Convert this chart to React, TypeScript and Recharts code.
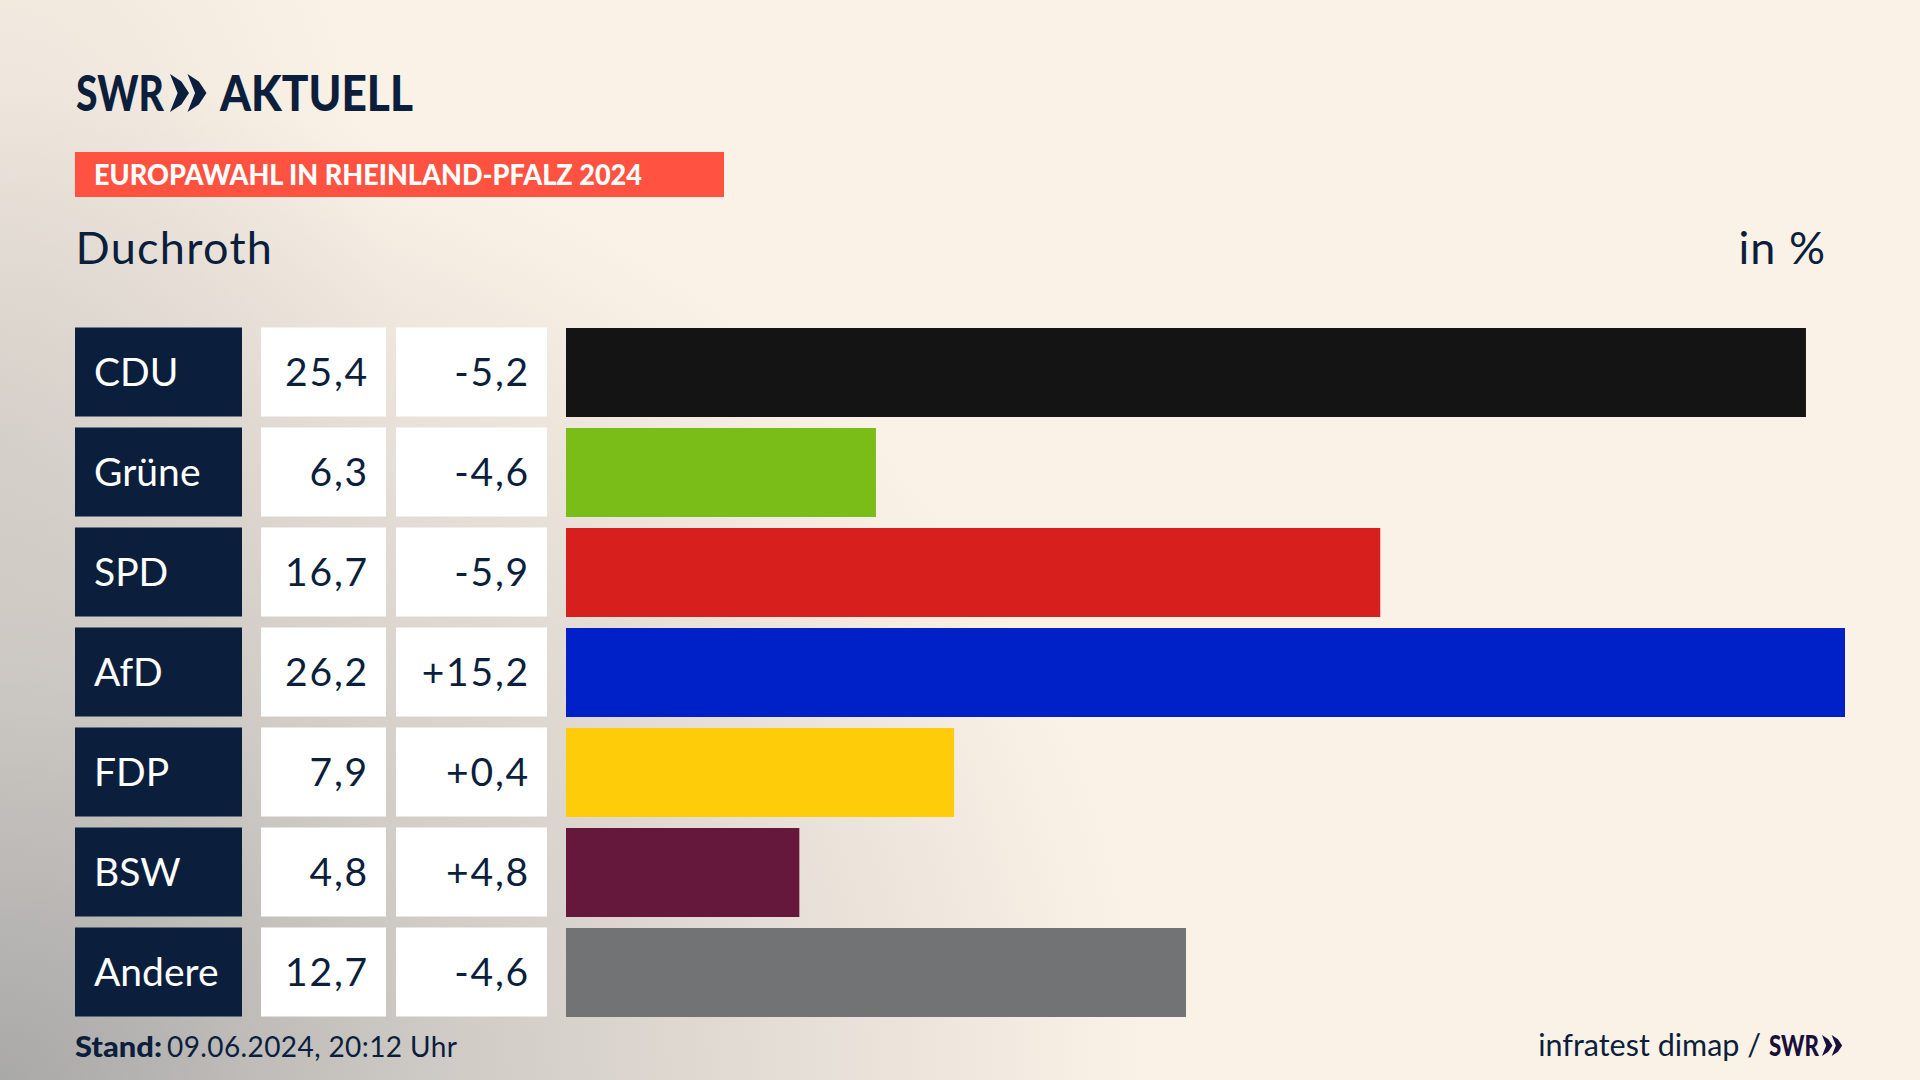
import { BarChart, Bar, XAxis, YAxis, Cell } from 'recharts';

const parties = ['CDU', 'Grüne', 'SPD', 'AfD', 'FDP', 'BSW', 'Andere'];
// bar lengths as measured in the picture, the printed labels are rounded
const shares = [25.4, 6.35, 16.68, 26.2, 7.95, 4.78, 12.7];
const shareLabels = ['25,4', '6,3', '16,7', '26,2', '7,9', '4,8', '12,7'];
const changes = ['-5,2', '-4,6', '-5,9', '+15,2', '+0,4', '+4,8', '-4,6'];
const partyColors = ['#141414', '#7ABD19', '#D7201E', '#0020C8', '#FFCC0A', '#66183C', '#727374'];

const data = parties.map((party, i) => ({ party, share: shares[i], label: shareLabels[i], change: changes[i] }));

const NAVY = '#0B1F3D';
const FONT = 'Lato';

// the three table cells left of each bar hang off the category axis ticks
function RowTick({ y, payload, index }: any) {
  const row = data[index];
  const top = y - 44.5;
  const base = y + 14;
  return (
    <g fontFamily={FONT} fontSize={39}>
      <rect x={75} y={top} width={167} height={89} fill={NAVY} />
      <text x={94} y={base} fill="#fff" textAnchor="start">{payload.value}</text>
      <rect x={261} y={top} width={125} height={89} fill="#fff" />
      <text x={369} y={base} fill={NAVY} textAnchor="end" letterSpacing={1.8}>{row.label}</text>
      <rect x={396} y={top} width={151} height={89} fill="#fff" />
      <text x={530} y={base} fill={NAVY} textAnchor="end" letterSpacing={1.8}>{row.change}</text>
    </g>
  );
}

function Chevrons({ x, y, h, fill }: { x: number; y: number; h: number; fill: string }) {
  const w = h * 0.5;
  const t = h * 0.3;
  const one = (ox: number) =>
    `${ox},${y} ${ox + t},${y + h * 0.2} ${ox + w},${y + h / 2} ${ox + t},${y + h * 0.8} ${ox},${y + h} ${ox + w - t},${y + h / 2}`;
  return (
    <g fill={fill}>
      <polygon points={one(x)} />
      <polygon points={one(x + w * 0.92)} />
    </g>
  );
}

function Overlay() {
  return (
    <svg width={1920} height={1080} style={{ position: 'absolute', left: 0, top: 0 }} fontFamily={FONT}>
      <text x={76} y={111} fontSize={50} fontWeight={900} fill={NAVY} textLength={88} lengthAdjust="spacingAndGlyphs">SWR</text>
      <Chevrons x={170} y={74} h={38} fill={NAVY} />
      <text x={220} y={111} fontSize={50} fontWeight={900} fill={NAVY} textLength={193} lengthAdjust="spacingAndGlyphs">AKTUELL</text>

      <rect x={75} y={152} width={649} height={45} fill="#FF5240" />
      <text x={94} y={185} fontSize={28} fontWeight={900} fill="#fff" textLength={548} lengthAdjust="spacingAndGlyphs">EUROPAWAHL IN RHEINLAND-PFALZ 2024</text>

      <text x={75.5} y={264} fontSize={45} fill={NAVY} letterSpacing={1.3}>Duchroth</text>
      <text x={1826} y={264} fontSize={45} fill={NAVY} textAnchor="end" letterSpacing={1}>in %</text>

      <text x={75} y={1057} fontSize={28} fontWeight={900} fill={NAVY} textLength={87} lengthAdjust="spacingAndGlyphs">Stand:</text>
      <text x={167} y={1057} fontSize={28} fill={NAVY} letterSpacing={0.4}>09.06.2024, 20:12 Uhr</text>

      <text x={1761} y={1056} fontSize={30.5} fill={NAVY} textAnchor="end">infratest dimap /</text>
      <text x={1769} y={1056} fontSize={28} fontWeight={900} fill="#1A0F3C" textLength={50} lengthAdjust="spacingAndGlyphs">SWR</text>
      <Chevrons x={1822} y={1035} h={21} fill="#1A0F3C" />
    </svg>
  );
}

export default function App() {
  return (
    <div
      style={{
        position: 'absolute',
        left: 0,
        top: 0,
        width: 1920,
        height: 1080,
        overflow: 'hidden',
        backgroundColor: '#FBF2E7',
        backgroundImage:
          'radial-gradient(ellipse 1150px 1000px at 0% 100%, rgba(165,165,165,0.95) 0%, rgba(190,187,184,0.7) 40%, rgba(251,242,231,0) 100%), radial-gradient(ellipse 400px 800px at 0% 40%, rgba(190,185,180,0.35) 0%, rgba(251,242,231,0) 100%)',
      }}
    >
      <BarChart
        width={1920}
        height={1080}
        data={data}
        layout="vertical"
        margin={{ top: 322, right: 75, bottom: 58, left: 75 }}
      >
        <XAxis type="number" domain={[0, 26.2]} hide />
        <YAxis
          type="category"
          dataKey="party"
          width={491}
          interval={0}
          axisLine={false}
          tickLine={false}
          tick={RowTick}
        />
        <Bar dataKey="share" barSize={89} isAnimationActive={false}>
          {data.map((d, i) => (
            <Cell key={d.party} fill={partyColors[i]} />
          ))}
        </Bar>
      </BarChart>
      <Overlay />
    </div>
  );
}
